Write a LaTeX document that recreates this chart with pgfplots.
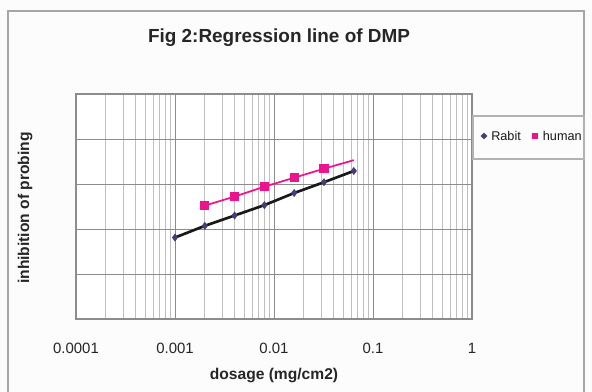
\documentclass[border=0pt]{standalone}
\usepackage{fontspec}
\setmainfont{Liberation Sans}
\usepackage{pgfplots}
\pgfplotsset{compat=1.18}
\definecolor{rabit}{RGB}{70,60,120}
\definecolor{human}{RGB}{236,20,140}
\definecolor{bg}{RGB}{252,252,252}
\definecolor{gridc}{RGB}{140,140,140}
\begin{document}
\begin{tikzpicture}
\useasboundingbox (0pt,0pt) rectangle (444pt,294pt);
\fill[bg] (0pt,0pt) rectangle (444pt,294pt);
\draw[color=gray!70, line width=0.9pt] (6pt,-4pt) -- (6pt,285.75pt) -- (438pt,285.75pt) -- (438pt,-4pt);
\node[font=\fontsize{14.2}{16}\selectfont\bfseries, text=black!85] at (209.25pt,265.5pt) {Fig 2:Regression line of DMP};
\node[font=\fontsize{11.7}{14}\selectfont\bfseries, text=black!85, rotate=90] at (18.75pt,138pt) {inhibition of probing};
\node[font=\fontsize{11.7}{14}\selectfont\bfseries, text=black!85] at (205.5pt,12pt) {dosage (mg/cm2)};
\begin{axis}[
  at={(57pt,54.75pt)}, anchor=south west,
  scale only axis, width=297pt, height=168.75pt,
  xmode=log, xmin=0.0001, xmax=1, ymin=0, ymax=5,
  axis background/.style={fill=white},
  axis line style={gridc, line width=0.8pt},
  xtick={0.0001,0.001,0.01,0.1,1},
  xticklabels={0.0001,0.001,0.01,0.1,1},
  ytick={0,1,2,3,4,5}, yticklabels={},
  minor x tick num=8,
  xmajorgrids, xminorgrids, ymajorgrids,
  major grid style={gridc, line width=0.6pt},
  minor grid style={gray!50, line width=0.45pt},
  tick style={draw=none}, major tick length=0pt, minor tick length=0pt,
  xticklabel style={font=\fontsize{11.2}{13}\selectfont, text=black!85, anchor=center, yshift=-21.75pt},
  /pgf/number format/assume math mode=true,
  clip=false,
]
\addplot[black!90, line width=2pt, mark=diamond*, mark size=2.6pt, mark options={fill=rabit, draw=rabit, line width=0.5pt}] coordinates {
 (0.001,1.81) (0.002,2.07) (0.004,2.30) (0.008,2.53) (0.016,2.80) (0.032,3.04) (0.064,3.29)
};
\addplot[human, line width=1.3pt, mark=square*, mark size=2.8pt, mark indices={1,2,3,4,5}, mark options={fill=human, draw=human}] coordinates {
 (0.002,2.52) (0.004,2.72) (0.008,2.94) (0.016,3.14) (0.032,3.34) (0.064,3.53)
};
\end{axis}
\draw[gray!60, line width=0.9pt, fill=bg] (354.75pt,174.75pt) rectangle (438pt,207pt);
\fill[rabit] (360.4pt,192pt) -- (363pt,194.6pt) -- (365.6pt,192pt) -- (363pt,189.4pt) -- cycle;
\node[font=\fontsize{9.5}{11}\selectfont, text=black!90, anchor=west, inner sep=0pt] at (368.25pt,192pt) {Rabit};
\fill[human] (399pt,189.6pt) rectangle (403.8pt,194.4pt);
\node[font=\fontsize{9.5}{11}\selectfont, text=black!90, anchor=west, inner sep=0pt] at (407pt,192pt) {human};
\end{tikzpicture}
\end{document}
